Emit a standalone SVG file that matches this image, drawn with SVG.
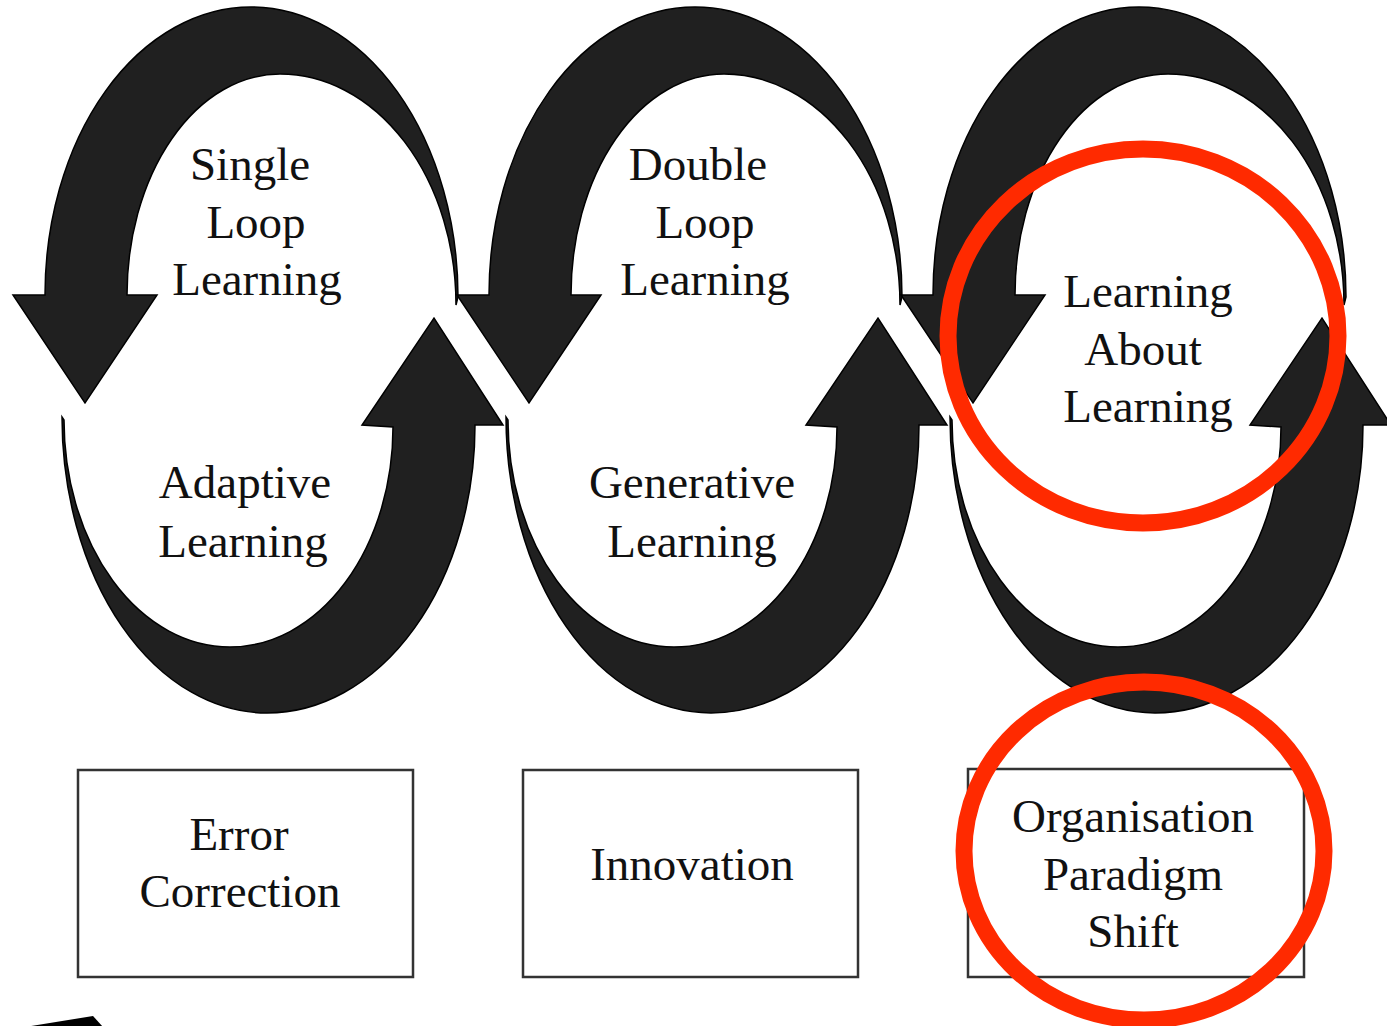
<svg xmlns="http://www.w3.org/2000/svg" xmlns:xlink="http://www.w3.org/1999/xlink" width="1387" height="1026" viewBox="0 0 1387 1026">
<style>
.arrow{fill:#202020;stroke:#000;stroke-width:1.5;stroke-linejoin:miter}
.lbl{font-family:"Liberation Serif","Times New Roman",serif;font-size:47px;fill:#111;text-anchor:middle}
.box{fill:#fff;stroke:#333;stroke-width:2.5}
.mark{fill:none;stroke:#ff2a00;stroke-width:17}
</style>
<defs>
<path id="topArrow" d="M 13,295 L 45,295 A 206,288 0 0 1 251,7 A 207,290 0 0 1 458,297 L 456,305 A 176,231 0 0 0 280,74 A 153,221 0 0 0 127,295 L 157,295 L 85,403 Z"/>
<path id="botArrow" d="M 62,417 A 205,296 0 0 0 267,713 A 208,288 0 0 0 475,425 L 503,425 L 434,318 L 362,425 L 393,427 A 163,220 0 0 1 230,647 A 166,227 0 0 1 64,420 Z"/>
</defs>
<rect width="1387" height="1026" fill="#fff"/>
<g id="connectors">
<use xlink:href="#topArrow" href="#topArrow" class="arrow"/>
<use xlink:href="#botArrow" href="#botArrow" class="arrow"/>
<use xlink:href="#topArrow" href="#topArrow" class="arrow" transform="translate(444,0)"/>
<use xlink:href="#botArrow" href="#botArrow" class="arrow" transform="translate(444,0)"/>
<use xlink:href="#topArrow" href="#topArrow" class="arrow" transform="translate(888,0)"/>
<use xlink:href="#botArrow" href="#botArrow" class="arrow" transform="translate(888,0)"/>
<polygon points="25,1027 93,1016 103,1027" fill="#000"/>
</g>
<g id="single-loop">
<text class="lbl" x="250" y="180">Single</text>
<text class="lbl" x="256" y="238">Loop</text>
<text class="lbl" x="257" y="295">Learning</text>
</g>
<g id="adaptive">
<text class="lbl" x="245" y="498">Adaptive</text>
<text class="lbl" x="243" y="557">Learning</text>
</g>
<g id="double-loop">
<text class="lbl" x="698" y="180">Double</text>
<text class="lbl" x="705" y="238">Loop</text>
<text class="lbl" x="705" y="295">Learning</text>
</g>
<g id="generative">
<text class="lbl" x="692" y="498">Generative</text>
<text class="lbl" x="692" y="557">Learning</text>
</g>
<g id="learning-about-learning">
<text class="lbl" x="1148" y="307">Learning</text>
<text class="lbl" x="1143" y="365">About</text>
<text class="lbl" x="1148" y="422">Learning</text>
</g>
<g id="box-error">
<rect class="box" x="78" y="770" width="335" height="207"/>
<text class="lbl" x="239" y="850">Error</text>
<text class="lbl" x="240" y="907">Correction</text>
</g>
<g id="box-innovation">
<rect class="box" x="523" y="770" width="335" height="207"/>
<text class="lbl" x="692" y="880">Innovation</text>
</g>
<g id="box-paradigm">
<rect class="box" x="968" y="769" width="336" height="208"/>
<text class="lbl" x="1133" y="832">Organisation</text>
<text class="lbl" x="1133" y="890">Paradigm</text>
<text class="lbl" x="1133" y="947">Shift</text>
</g>
<g id="highlights">
<ellipse class="mark" cx="1143" cy="336" rx="195" ry="187"/>
<ellipse class="mark" cx="1144" cy="851" rx="180" ry="169"/>
</g>
</svg>
